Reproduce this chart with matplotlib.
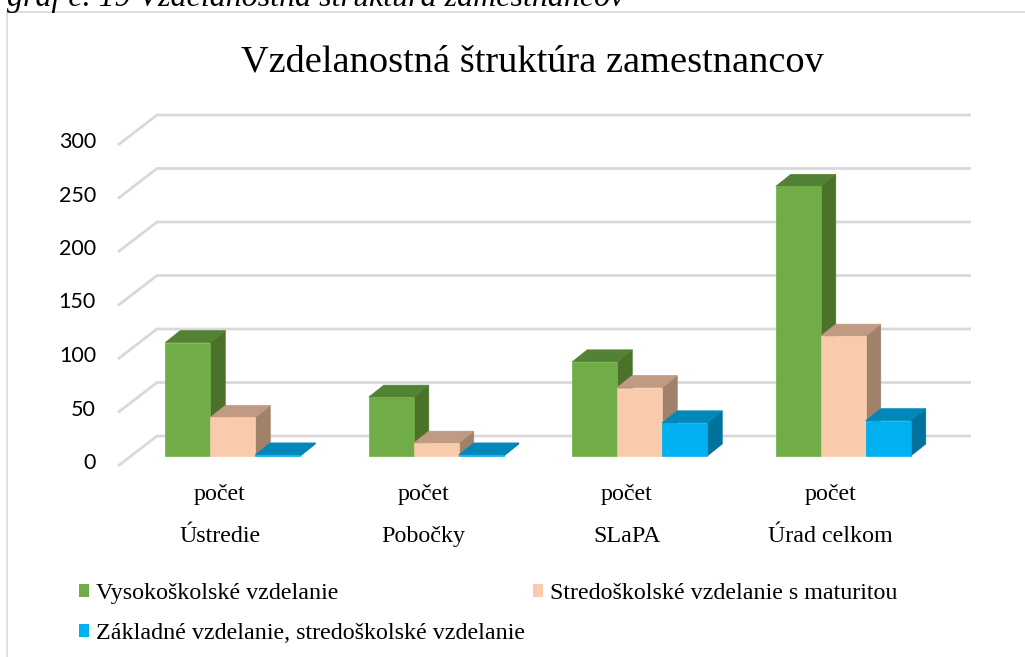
import matplotlib
matplotlib.use("Agg")
import matplotlib.pyplot as plt
from matplotlib.patches import Polygon, Patch
from matplotlib.lines import Line2D
import numpy as np

# Data
kategorie = ["Ústredie", "Pobočky", "SLaPA", "Úrad celkom"]
podkategoria = "počet"
vysokoskolske = [106, 55, 88, 252]
stredoskolske_mat = [36, 12, 64, 112]
zakladne = [1, 1, 31, 33]
serie_nazvy = ["Vysokoškolské vzdelanie",
               "Stredoškolské vzdelanie s maturitou",
               "Základné vzdelanie, stredoškolské vzdelanie"]
y_ticks = [0, 50, 100, 150, 200, 250, 300]

# Colors: front, side, top
FARBY = [
    ("#70AD47", "#4A7229", "#548235"),
    ("#F8CBAD", "#A0826B", "#C09A82"),
    ("#00B0F0", "#00729C", "#0088BA"),
]
GRID = "#D9D9D9"
SERIF = "Liberation Serif"

W, H = 1025, 657
fig = plt.figure(figsize=(W / 100, H / 100), dpi=100)
fig.patch.set_facecolor("white")

# axes = bar front plane
ax_l, ax_r, ax_b, ax_t = 131, 945, 456, 135
ax = fig.add_axes([ax_l / W, 1 - ax_b / H, (ax_r - ax_l) / W, (ax_b - ax_t) / H])
ax.set_xlim(-0.5, 3.5)
ax.set_ylim(0, 300)
ax.axis("off")

px_x = (ax_r - ax_l) / 4.0
px_y = (ax_b - ax_t) / 300.0

# 3D offsets (pixels -> data units)
DX, DY = 15 / px_x, 12 / px_y        # bar depth
BX, BY = 26 / px_x, 20 / px_y        # back wall
FX, FY = -13 / px_x, -10 / px_y      # front edge of floor
bw = 45 / px_x

# gridlines on back wall + side wall
for v in y_ticks:
    ax.plot([-0.5 + FX, -0.5 + BX, 3.5 + BX], [v + FY, v + BY, v + BY],
            color=GRID, lw=2, clip_on=False, zorder=1, solid_capstyle="butt")
    ax.text(-0.5 + FX - 22 / px_x, v + FY + 3 / px_y, str(v), ha="right",
            va="center", fontsize=15.5, family="Lato", color="#000000")

x = np.arange(len(kategorie))
serie = [vysokoskolske, stredoskolske_mat, zakladne]
for i in range(len(kategorie)):
    for k, vals in enumerate(serie):
        front, side, top = FARBY[k]
        x0 = x[i] + (k - 1.5) * bw
        x1 = x0 + bw
        v = vals[i]
        ax.add_patch(Polygon([(x1, 0), (x1 + DX, DY), (x1 + DX, v + DY), (x1, v)],
                             closed=True, facecolor=side, edgecolor=side, lw=0.5,
                             clip_on=False, zorder=2 + i * 3 + k))
        ax.add_patch(Polygon([(x0, v), (x0 + DX, v + DY), (x1 + DX, v + DY), (x1, v)],
                             closed=True, facecolor=top, edgecolor=top, lw=0.5,
                             clip_on=False, zorder=2 + i * 3 + k))
        ax.bar(x0, v, width=bw, align="edge", color=front, edgecolor=front,
               lw=0.5, clip_on=False, zorder=2 + i * 3 + k)

# category labels (two levels)
for i, name in enumerate(kategorie):
    ax.text(x[i] + FX, (ax_b - 500) / px_y, podkategoria, ha="center", va="baseline",
            fontsize=17.3, family=SERIF)
    ax.text(x[i] + FX, (ax_b - 542) / px_y, name, ha="center", va="baseline",
            fontsize=17.3, family=SERIF)

# title + caption
fig.text(532 / W, 1 - 72 / H, "Vzdelanostná štruktúra zamestnancov", ha="center",
         va="baseline", fontsize=27.6, family=SERIF)
fig.text(7 / W, 1 - 6 / H, "graf č. 19 Vzdelanostná štruktúra zamestnancov",
         ha="left", va="baseline", fontsize=23, family=SERIF, style="italic")

# chart border (left and top visible)
fig.add_artist(Line2D([7 / W, 7 / W, 1.0], [0, 1 - 12 / H, 1 - 12 / H],
                      transform=fig.transFigure, color=GRID, lw=1.2))

# legend
handles = [Patch(facecolor=FARBY[0][0], edgecolor="none", label=serie_nazvy[0]),
           Patch(facecolor=FARBY[2][0], edgecolor="none", label=serie_nazvy[2]),
           Patch(facecolor=FARBY[1][0], edgecolor="none", label=serie_nazvy[1])]
fig.legend(handles=handles, loc="upper left", bbox_to_anchor=(79 / W, 1 - 583 / H),
           ncol=2, frameon=False, borderpad=0, borderaxespad=0,
           prop={"family": SERIF, "size": 17.3}, handlelength=0.42, handleheight=0.42,
           handletextpad=0.28, columnspacing=0.35, labelspacing=0.8)

fig.savefig("out.png", dpi=100, facecolor="white")
